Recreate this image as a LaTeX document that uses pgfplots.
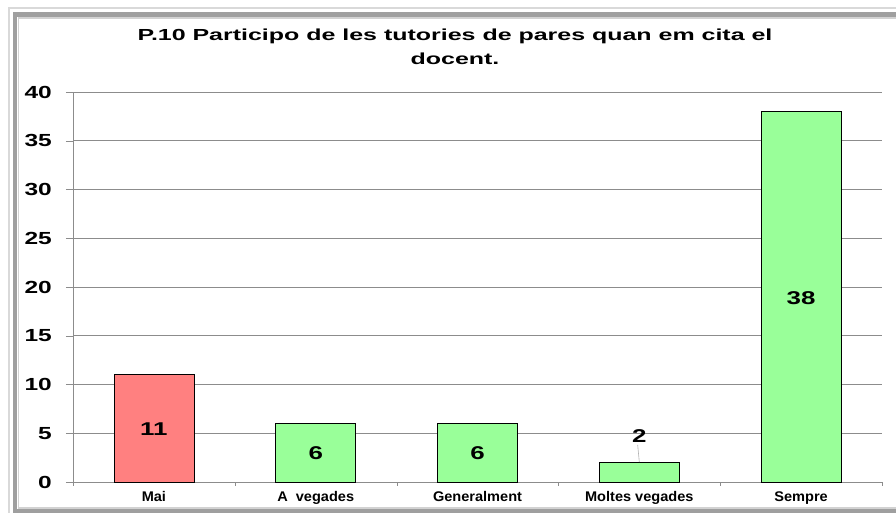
\documentclass[border=0pt]{standalone}
\usepackage{fontspec}
\setmainfont{Liberation Sans}
\newfontfamily\titlefont[FakeStretch=1.56]{Liberation Sans}
\newfontfamily\ytfont[FakeStretch=1.4]{Liberation Sans}
\newfontfamily\dlfont[FakeStretch=1.4]{Liberation Sans}
\newfontfamily\xtfont[FakeStretch=1.04]{Liberation Sans}
\usepackage{pgfplots}
\pgfplotsset{compat=1.18}
\definecolor{redbar}{RGB}{255,128,128}
\definecolor{greenbar}{RGB}{153,255,153}
\definecolor{gridgray}{RGB}{140,140,140}
\begin{document}
\begin{tikzpicture}[x=1pt,y=1pt]
\useasboundingbox (0,0) rectangle (896,513);
\fill[white] (0,0) rectangle (896,513);
\draw[gray!30, line width=1.5pt] (9,-5) rectangle (905,505);
\draw[gray!75, line width=4.5pt] (15,1.5) rectangle (905,498.5);
\draw[gray!35, line width=1.5pt] (18.5,5) rectangle (905,495);
\node[font=\titlefont\bfseries\fontsize{16}{24}\selectfont, align=center, anchor=base] at (455,448) {P.10 Participo de les tutories de pares quan em cita el\\docent.};
\begin{axis}[
  at={(73pt,31pt)}, anchor=south west, scale only axis,
  width=809pt, height=390pt,
  xmin=-0.5, xmax=4.5, ymin=0, ymax=40,
  ytick={0,5,...,40},
  xtick={0,1,2,3,4},
  xticklabels={Mai, A\ \ vegades, Generalment, Moltes vegades, Sempre},
  minor xtick={-0.5,0.5,1.5,2.5,3.5,4.5},
  axis x line*=bottom, axis y line*=left,
  axis line style={gridgray},
  ymajorgrids, grid style={gridgray, line width=0.6pt},
  tick align=outside,
  x tick style={draw=none},
  minor x tick style={draw=gridgray},
  y tick style={draw=gridgray},
  major tick length=7pt, minor tick length=4pt,
  yticklabel style={font=\ytfont\bfseries\fontsize{17.5}{20}\selectfont, anchor=east, inner sep=0pt, xshift=-14pt},
  xticklabel style={font=\xtfont\bfseries\fontsize{14}{16}\selectfont, anchor=north, inner sep=0pt, text height=10pt, yshift=-2pt},
  /pgf/number format/assume math mode=true,
  clip=false,
]
\addplot[ybar, bar width=80pt, bar shift=0pt, fill=redbar, draw=black, line width=0.8pt] coordinates {(0,11)};
\addplot[ybar, bar width=80pt, bar shift=0pt, fill=greenbar, draw=black, line width=0.8pt] coordinates {(1,6) (2,6) (3,2) (4,38)};
\addplot[gray!60, line width=0.6pt] coordinates {(2.99,3.8) (3.0,2.05)};
\addplot[draw=none, mark=none, nodes near coords, point meta=explicit symbolic,
  every node near coord/.style={anchor=center, inner sep=0pt, font=\dlfont\bfseries\fontsize{18.5}{20}\selectfont}]
  coordinates {(0,5.44)[11] (1,2.92)[6] (2,2.92)[6] (3,4.72)[2] (4,18.9)[38]};
\end{axis}
\end{tikzpicture}
\end{document}
